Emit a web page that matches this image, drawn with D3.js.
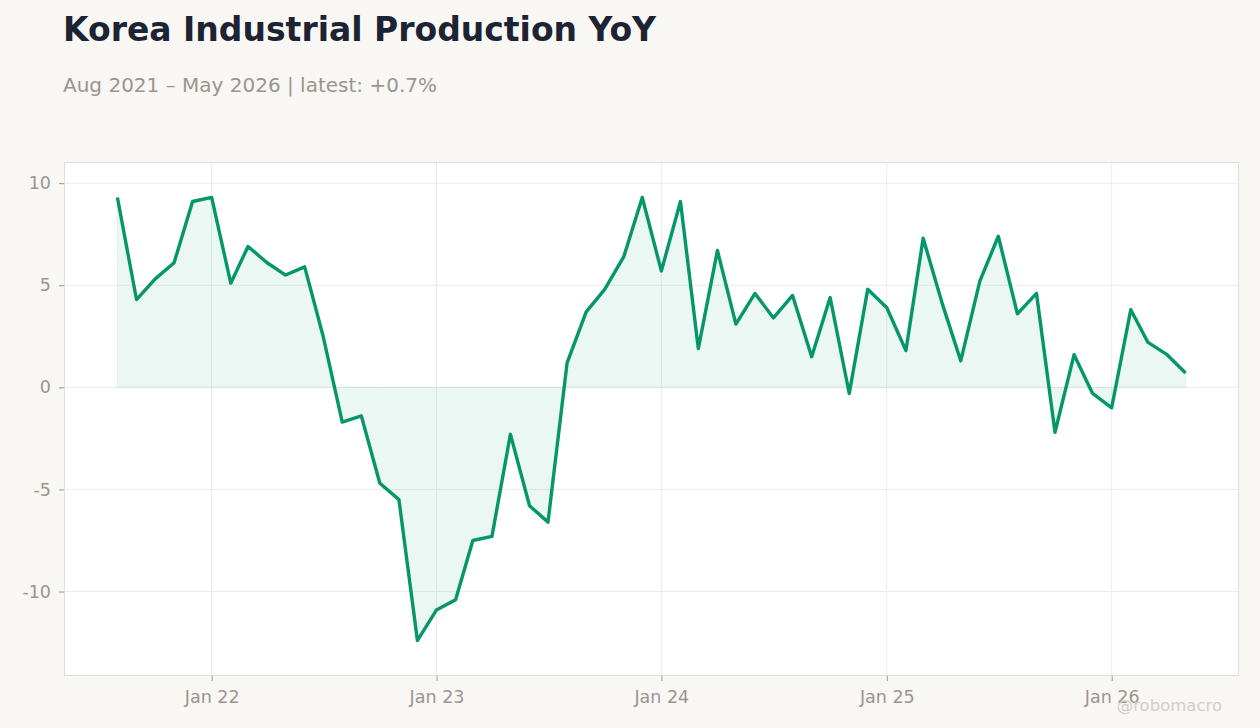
<!DOCTYPE html>
<html>
<head>
<meta charset="utf-8">
<script src="https://cdn.jsdelivr.net/npm/d3@7"></script>
<style>
  html, body { margin: 0; padding: 0; background: #f8f7f4; }
  body { width: 1260px; height: 728px; overflow: hidden; font-family: "DejaVu Sans", sans-serif; }
</style>
</head>
<body>
<div id="chart"></div>
<script>
// monthly YoY % change, Aug 2021 .. May 2026
const startMonth = "2021-08";
const values = [
  9.3, 4.3, 5.3, 6.1, 9.1,                                  // Aug-Dec 21
  9.3, 5.1, 6.9, 6.1, 5.5, 5.9, 2.5, -1.7, -1.4, -4.7, -5.5, -12.4, // 2022
  -10.9, -10.4, -7.5, -7.3, -2.3, -5.8, -6.6, 1.2, 3.7, 4.8, 6.4, 9.3, // 2023
  5.7, 9.1, 1.9, 6.7, 3.1, 4.6, 3.4, 4.5, 1.5, 4.4, -0.3, 4.8,  // 2024
  3.9, 1.8, 7.3, 4.1, 1.3, 5.2, 7.4, 3.6, 4.6, -2.2, 1.6, -0.3, // 2025
  -1.0, 3.8, 2.2, 1.6, 0.7                                   // Jan-May 26
];
const yTicks = [-10, -5, 0, 5, 10];
const xTickDates = ["2022-01", "2023-01", "2024-01", "2025-01", "2026-01"];

const titleText = "Korea Industrial Production YoY";
const subtitleText = "Aug 2021 \u2013 May 2026 | latest: +0.7%";
const credit = "@robomacro";

const width = 1260, height = 728;
const margin = {top: 162, right: 21, bottom: 52, left: 64};
const innerW = width - margin.left - margin.right;
const innerH = height - margin.top - margin.bottom;

const parseMonth = d3.timeParse("%Y-%m");
const t0 = parseMonth(startMonth);
const data = values.map((v, i) => ({date: d3.timeMonth.offset(t0, i), value: v}));

const svg = d3.select("#chart").append("svg")
    .attr("width", width)
    .attr("height", height);

// titles
svg.append("text")
    .attr("x", 63).attr("y", 41)
    .attr("fill", "#1c2333")
    .style("font-size", "33px")
    .style("font-weight", "bold")
    .text(titleText);

svg.append("text")
    .attr("x", 63).attr("y", 92)
    .attr("fill", "#9a958f")
    .style("font-size", "20px")
    .text(subtitleText);

// scales, padded a little on both axes
const tMin = data[0].date, tMax = data[data.length - 1].date;
const span = tMax - tMin;
const x = d3.scaleTime()
    .domain([new Date(+tMin - span * 0.05), new Date(+tMax + span * 0.05)])
    .range([0, innerW]);

const vMin = d3.min(values), vMax = d3.max(values);
const vPad = (vMax - vMin) * 0.08;
const y = d3.scaleLinear()
    .domain([vMin - vPad, vMax + vPad])
    .range([innerH, 0]);

const g = svg.append("g").attr("transform", `translate(${margin.left},${margin.top})`);

g.append("rect")
    .attr("width", innerW).attr("height", innerH)
    .attr("fill", "#ffffff");

// grid
g.selectAll(".hgrid").data(yTicks).enter().append("line")
    .attr("x1", 0).attr("x2", innerW)
    .attr("y1", d => y(d)).attr("y2", d => y(d))
    .attr("stroke", "#ebebeb").attr("stroke-width", 1);

const xTicks = xTickDates.map(parseMonth);
g.selectAll(".vgrid").data(xTicks).enter().append("line")
    .attr("x1", d => x(d)).attr("x2", d => x(d))
    .attr("y1", 0).attr("y2", innerH)
    .attr("stroke", "#ebebeb").attr("stroke-width", 1);

// area to zero + line
const area = d3.area()
    .x(d => x(d.date))
    .y0(y(0))
    .y1(d => y(d.value));

g.append("path")
    .datum(data)
    .attr("d", area)
    .attr("fill", "#059669")
    .attr("fill-opacity", 0.08)
    .attr("stroke", "#059669")
    .attr("stroke-opacity", 0.08);

const line = d3.line()
    .x(d => x(d.date))
    .y(d => y(d.value));

g.append("path")
    .datum(data)
    .attr("d", line)
    .attr("fill", "none")
    .attr("stroke", "#059669")
    .attr("stroke-width", 3.4)
    .attr("stroke-linejoin", "round");

// frame
g.append("rect")
    .attr("x", 0.5).attr("y", 0.5)
    .attr("width", innerW - 1).attr("height", innerH - 1)
    .attr("fill", "none")
    .attr("stroke", "#e2ddd5");

// axes
const yAxis = g.append("g")
    .call(d3.axisLeft(y).tickValues(yTicks).tickSize(5).tickPadding(8).tickFormat(d3.format("d")));
const xAxis = g.append("g")
    .attr("transform", `translate(0,${innerH})`)
    .call(d3.axisBottom(x).tickValues(xTicks).tickSize(5).tickPadding(10).tickFormat(d3.timeFormat("Jan %y")));

[yAxis, xAxis].forEach(a => {
    a.select(".domain").remove();
    a.selectAll(".tick line").attr("stroke", "#9a958f");
    a.selectAll(".tick text")
        .attr("fill", "#9a958f")
        .style("font-size", "17.5px")
        .style("font-family", "DejaVu Sans, sans-serif");
});
yAxis.selectAll(".tick text").text(d => d < 0 ? "-" + Math.abs(d) : d);

// watermark
svg.append("text")
    .attr("x", 1222).attr("y", 711)
    .attr("text-anchor", "end")
    .attr("fill", "#d3cec8")
    .style("font-size", "16.5px")
    .text(credit);
</script>
</body>
</html>
